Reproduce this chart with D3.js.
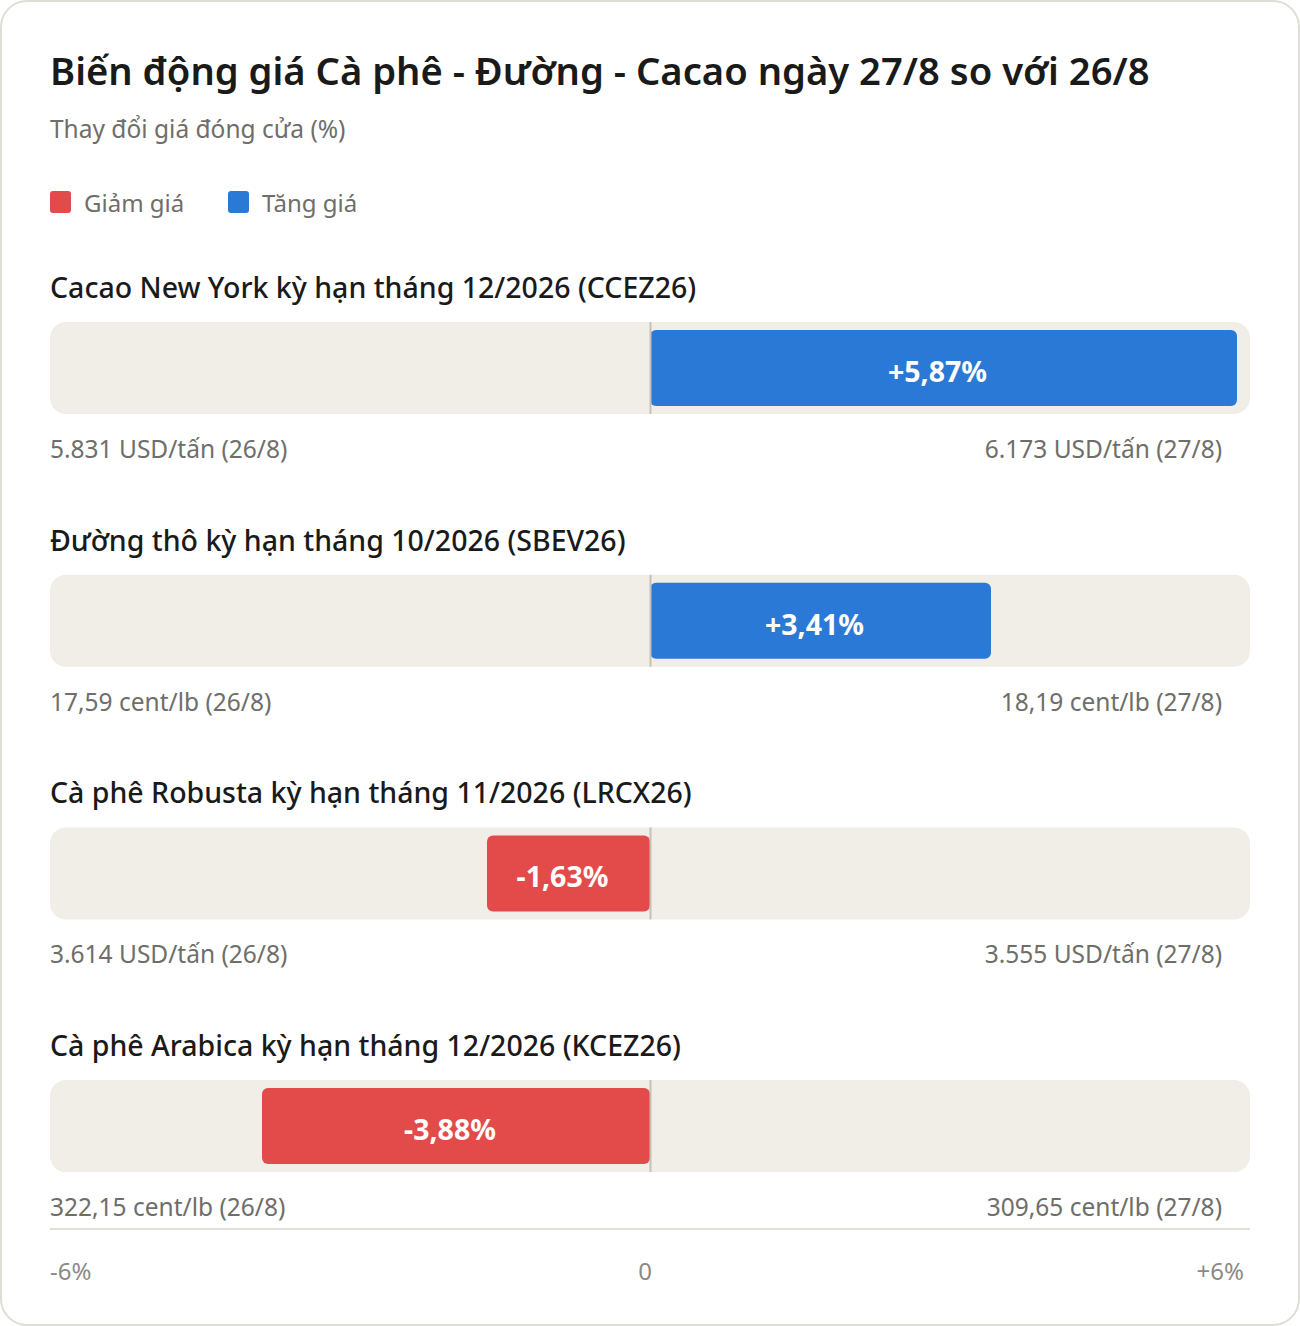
<!DOCTYPE html>
<html>
<head>
<meta charset="utf-8">
<script src="https://cdn.jsdelivr.net/npm/d3@7"></script>
<style>
  body { margin: 0; background: #ffffff; }
  svg { display: block; }
</style>
</head>
<body>
<svg id="chart"></svg>
<script>
// du lieu
var titles = [
  "Cacao New York kỳ hạn tháng 12/2026 (CCEZ26)",
  "Đường thô kỳ hạn tháng 10/2026 (SBEV26)",
  "Cà phê Robusta kỳ hạn tháng 11/2026 (LRCX26)",
  "Cà phê Arabica kỳ hạn tháng 12/2026 (KCEZ26)"
];
var changes = [5.87, 3.41, -1.63, -3.88];
var prevPrices = ["5.831 USD/tấn (26/8)", "17,59 cent/lb (26/8)", "3.614 USD/tấn (26/8)", "322,15 cent/lb (26/8)"];
var lastPrices = ["6.173 USD/tấn (27/8)", "18,19 cent/lb (27/8)", "3.555 USD/tấn (27/8)", "309,65 cent/lb (27/8)"];
var tickValues = [-6, 0, 6];
var tickLabels = ["-6%", "0", "+6%"];
var legendItems = ["Giảm giá", "Tăng giá"];

var W = 1300, H = 1326;
var font = "'Noto Sans', 'Open Sans', sans-serif";
var red = "#e34b4b", blue = "#2b79d6";
var rowStep = 252.7, trackTop = 322, trackH = 92, barPad = 8;

var svg = d3.select("#chart").attr("width", W).attr("height", H);

svg.append("rect")
  .attr("x", 1).attr("y", 1).attr("width", W - 2).attr("height", H - 2)
  .attr("rx", 26).attr("ry", 26)
  .attr("fill", "#fff").attr("stroke", "#deded6").attr("stroke-width", 2);

var x = d3.scaleLinear().domain([-6, 6]).range([50, 1250]);

svg.append("text")
  .attr("x", 50).attr("y", 85)
  .attr("font-family", font).attr("font-size", 38.2).attr("font-weight", 600)
  .attr("fill", "#1a1a1a")
  .text("Biến động giá Cà phê - Đường - Cacao ngày 27/8 so với 26/8");

svg.append("text")
  .attr("x", 50).attr("y", 138)
  .attr("font-family", font).attr("font-size", 24.5)
  .attr("fill", "#6e6e6a")
  .text("Thay đổi giá đóng cửa (%)");

var legend = svg.append("g").selectAll("g")
  .data(legendItems).enter().append("g")
  .attr("transform", function(d, i) { return "translate(" + (50 + i * 178) + ",191)"; });
legend.append("rect")
  .attr("width", 21).attr("height", 22).attr("rx", 3)
  .attr("fill", function(d, i) { return i == 0 ? red : blue; });
legend.append("text")
  .attr("x", 34).attr("y", 21)
  .attr("font-family", font).attr("font-size", 24)
  .attr("fill", "#6e6e6a")
  .text(function(d) { return d; });

var rows = svg.append("g").selectAll("g")
  .data(changes).enter().append("g")
  .attr("transform", function(d, i) { return "translate(0," + (trackTop + i * rowStep) + ")"; });

rows.append("text")
  .attr("x", 50).attr("y", -24)
  .attr("font-family", font).attr("font-size", 28.5).attr("font-weight", 500)
  .attr("fill", "#1a1a1a")
  .text(function(d, i) { return titles[i]; });

rows.append("rect")
  .attr("x", x(-6)).attr("y", 0)
  .attr("width", x(6) - x(-6)).attr("height", trackH)
  .attr("rx", 16).attr("ry", 16)
  .attr("fill", "#f1eee7");

rows.append("rect")
  .attr("x", function(d) { return Math.min(x(0), x(d)); })
  .attr("y", barPad)
  .attr("width", function(d) { return Math.abs(x(d) - x(0)); })
  .attr("height", trackH - barPad * 2)
  .attr("rx", 6).attr("ry", 6)
  .attr("fill", function(d) { return d < 0 ? red : blue; });

rows.append("line")
  .attr("x1", x(0) + 0.5).attr("x2", x(0) + 0.5)
  .attr("y1", 0).attr("y2", trackH)
  .attr("stroke", "#c4c1b8").attr("stroke-width", 2);

rows.append("text")
  .attr("x", function(d) { return (x(0) + x(d)) / 2 - 6; })
  .attr("y", trackH / 2 + 14)
  .attr("text-anchor", "middle")
  .attr("font-family", font).attr("font-size", 28.5).attr("font-weight", 700)
  .attr("fill", "#fff")
  .text(function(d) { return (d > 0 ? "+" : "") + d3.format(".2f")(d).replace("−", "-").replace(".", ",") + "%"; });

rows.append("text")
  .attr("x", 50).attr("y", trackH + 44)
  .attr("font-family", font).attr("font-size", 24.5)
  .attr("fill", "#6e6e6a")
  .text(function(d, i) { return prevPrices[i]; });

rows.append("text")
  .attr("x", 1222).attr("y", trackH + 44)
  .attr("text-anchor", "end")
  .attr("font-family", font).attr("font-size", 24.5)
  .attr("fill", "#6e6e6a")
  .text(function(d, i) { return lastPrices[i]; });

// truc duoi
svg.append("line")
  .attr("x1", x(-6)).attr("x2", x(6))
  .attr("y1", 1229).attr("y2", 1229)
  .attr("stroke", "#dfded8").attr("stroke-width", 2);

svg.append("g").selectAll("text")
  .data(tickValues).enter().append("text")
  .attr("x", function(d) { return d == 0 ? x(d) - 5 : (d < 0 ? x(d) : x(d) - 6); })
  .attr("y", 1280)
  .attr("text-anchor", function(d) { return d == 0 ? "middle" : (d < 0 ? "start" : "end"); })
  .attr("font-family", font).attr("font-size", 24)
  .attr("fill", "#8a8a86")
  .text(function(d, i) { return tickLabels[i]; });
</script>
</body>
</html>
